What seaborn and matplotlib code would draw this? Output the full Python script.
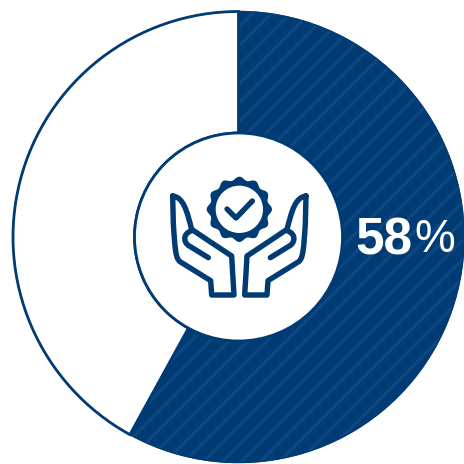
import numpy as np
import matplotlib
matplotlib.use("Agg")
import matplotlib.pyplot as plt
from matplotlib.patches import PathPatch, Polygon, Circle
from matplotlib.path import Path
import seaborn as sns

# Share of the ring
segments = ["Yes", "No"]
shares = [58, 42]
unit = "%"

NAVY = "#003C73"
STRIPE = "#0B4780"
W, H = 465, 464
DPI = 114
PT = 100 / DPI  # sizes below are given for a 100 dpi canvas
CX, CY, R_OUT, R_IN = 238.5, 237, 225.5, 104

sns.set_theme(style="white")
plt.rcParams["font.family"] = ["Liberation Sans", "DejaVu Sans"]
plt.rcParams["hatch.linewidth"] = 2.4 * PT

fig = plt.figure(figsize=(W / DPI, H / DPI), dpi=DPI, facecolor="white")
ax = fig.add_axes([0, 0, 1, 1])


def py(y):
    return H - y


# Filled ring with diagonal stripes on the main segment
wedges, _ = ax.pie(
    shares, center=(CX, py(CY)), radius=R_OUT, startangle=90, counterclock=False,
    colors=[NAVY, "white"], frame=True,
    wedgeprops=dict(width=R_OUT - R_IN, linewidth=0),
)
wedges[0].set_hatch("//")
wedges[0].set_edgecolor(STRIPE)
wedges[0].set_linewidth(0.9 * PT)

# Crisp outline of both segments
outline, _ = ax.pie(
    shares, center=(CX, py(CY)), radius=R_OUT, startangle=90, counterclock=False,
    colors=["none", "none"], frame=True,
    wedgeprops=dict(width=R_OUT - R_IN, linewidth=0),
)
outline[1].set_edgecolor(NAVY)
outline[1].set_linewidth(2 * PT)
ax.add_patch(Circle((CX, py(CY)), R_OUT, fill=False, ec=NAVY, lw=1.0 * PT, zorder=3))
ax.add_patch(Circle((CX, py(CY)), R_IN, fc="white", ec=NAVY, lw=2 * PT, zorder=4))

ax.set_xlim(0, W)
ax.set_ylim(0, H)
ax.set_aspect("equal")
ax.axis("off")


# Icon: badge held by two open hands, laid out in a 480-unit grid over the hub
def icon_xy(u, v):
    return 160 + u / 3, py(160 + v / 3)


stroke = dict(color=NAVY, lw=3.9 * PT, solid_capstyle="round", solid_joinstyle="round", zorder=6)

hand = Path(
    [(38, 108), (70, 112), (80, 150), (95, 208),
     (150, 245), (215, 288),
     (218, 340), (222, 405),
     (155, 405), (152, 362),
     (60, 305), (47, 295), (45, 270), (40, 190), (38, 108)],
    [Path.MOVETO, Path.CURVE4, Path.CURVE4, Path.CURVE4,
     Path.LINETO, Path.LINETO,
     Path.LINETO, Path.LINETO,
     Path.LINETO, Path.LINETO,
     Path.LINETO, Path.CURVE4, Path.CURVE4, Path.LINETO, Path.LINETO],
)
finger = Path(
    [(95, 212), (65, 222), (72, 250), (88, 258), (145, 293)],
    [Path.MOVETO, Path.CURVE4, Path.CURVE4, Path.CURVE4, Path.LINETO],
)

for mirrored in (False, True):
    for p in (hand, finger):
        verts = p.vertices.copy()
        if mirrored:
            verts[:, 0] = 476 - verts[:, 0]
        xy = np.array([icon_xy(u, v) for u, v in verts])
        ax.add_patch(PathPatch(Path(xy, p.codes), fill=False, ec=NAVY, lw=3.9 * PT,
                               capstyle="round", joinstyle="round", zorder=6))

# Scalloped badge
theta = np.linspace(0, 2 * np.pi, 361)
radius = 93 + 5 * np.cos(12 * theta)
badge = np.array([icon_xy(238 + r * np.sin(t), 148 - r * np.cos(t)) for r, t in zip(radius, theta)])
ax.add_patch(Polygon(badge, closed=True, fc=NAVY, ec="none", zorder=6))
cx, cy = icon_xy(238, 148)
ax.add_patch(Circle((cx, cy), 71 / 3, fc="white", ec="none", zorder=7))

# Check mark
check = np.array([icon_xy(u, v) for u, v in [(201, 147), (228, 174), (277, 123)]])
ax.plot(check[:, 0], check[:, 1], **{**stroke, "zorder": 8})

# Value label
ax.text(384, py(241), f"{shares[0]}", color="white", fontsize=37 * PT, fontweight="bold",
        ha="center", va="center", zorder=5)
ax.text(435, py(240), unit, color="white", fontsize=33 * PT, ha="center", va="center", zorder=5)

fig.savefig("out.png", dpi=DPI, facecolor="white")
